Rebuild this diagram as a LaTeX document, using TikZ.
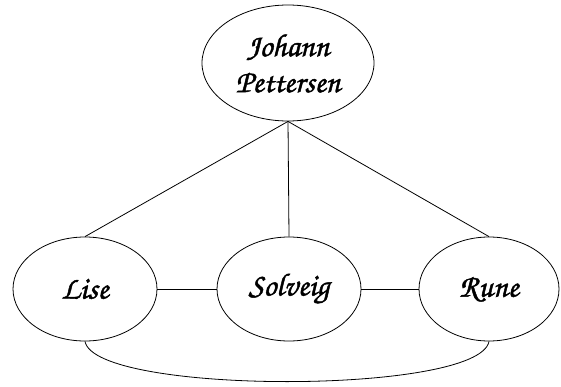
\documentclass[tikz,border=0pt]{standalone}
\usepackage[T1]{fontenc}
\usetikzlibrary{shapes.geometric}
% heavier outline on the chancery lettering (fill + thin stroke)
\newcommand{\inkname}[1]{\special{pdf:literal direct 2 Tr 0.45 w}#1\special{pdf:literal direct 0 Tr}}
\tikzset{
  person/.style={ellipse, draw, line width=0.8pt, minimum width=#1, inner sep=0pt,
    align=center, font=\fontfamily{pzc}\fontshape{it}\fontsize{32}{36}\selectfont},
  link/.style={draw, line width=0.8pt}
}
\begin{document}
\begin{tikzpicture}[x=1pt, y=-1pt]
  \useasboundingbox (0,0) rectangle (561,387);
  \node[person=172pt, minimum height=116pt] (jp) at (288,63) {\inkname{Johann}\\\inkname{Pettersen}};
  \node[person=144pt, minimum height=104pt] (lise) at (85,289) {\inkname{Lise}};
  \node[person=144pt, minimum height=104pt] (solveig) at (289,289) {\inkname{Solveig}};
  \node[person=140pt, minimum height=104pt] (rune) at (489,289) {\inkname{Rune}};
  \path[link] (jp.south) -- (lise.north);
  \path[link] (jp.south) -- (solveig.north);
  \path[link] (jp.south) -- (rune.north);
  \path[link] (lise) -- (solveig);
  \path[link] (solveig) -- (rune);
  \path[link] (lise.south) .. controls (95,395) and (479,395) .. (rune.south);
\end{tikzpicture}
\end{document}
